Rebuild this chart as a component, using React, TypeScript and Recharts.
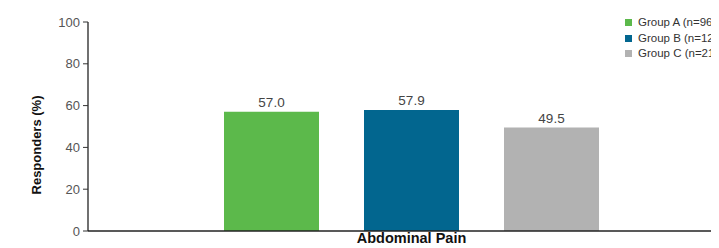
import { Bar, BarChart, LabelList, XAxis, YAxis } from 'recharts';

const FONT = '"Liberation Sans", Arial, Helvetica, sans-serif';

const categories = ['Abdominal Pain'];
const groupNames = ['Group A (n=962)', 'Group B (n=1266)', 'Group C (n=216)'];
const groupA = [57.0];
const groupB = [57.9];
const groupC = [49.5];
const yTicks = [0, 20, 40, 60, 80, 100];

const COLORS = ['#5cb94b', '#02668f', '#b2b2b2'];

const data = categories.map((name, i) => ({
  name,
  a: groupA[i],
  b: groupB[i],
  c: groupC[i],
}));

// legend sits outside the plot so it doesn't eat into the plot width
function LegendBox() {
  return (
    <div
      style={{
        position: 'absolute',
        left: 617,
        top: 7,
        fontFamily: FONT,
        fontSize: 11.5,
        color: '#333',
        lineHeight: '15.5px',
      }}
    >
      {groupNames.map((g, i) => (
        <div key={g} style={{ display: 'flex', alignItems: 'center', whiteSpace: 'nowrap' }}>
          <span style={{ width: 7, height: 7, background: COLORS[i], marginRight: 6, display: 'inline-block' }} />
          {g}
        </div>
      ))}
    </div>
  );
}

function YLabel() {
  return (
    <text
      x={28}
      y={137}
      transform="rotate(-90 28 137)"
      textAnchor="middle"
      dominantBaseline="central"
      style={{ fontFamily: FONT, fontSize: 13, fontWeight: 700, fill: '#111' }}
    >
      Responders (%)
    </text>
  );
}

export default function App() {
  const labelStyle = { fontFamily: FONT, fontSize: 13.5, fill: '#444' };
  return (
    <div style={{ position: 'relative', width: 711, height: 240, overflow: 'hidden' }}>
      <BarChart
        width={735}
        height={240}
        data={data}
        margin={{ top: 14, right: 8, bottom: 0, left: 30 }}
        barSize={95}
        barGap={45}
      >
        <XAxis
          dataKey="name"
          axisLine={{ stroke: '#222', strokeWidth: 1.5 }}
          tickLine={false}
          tickSize={0}
          tickMargin={2}
          height={17}
          tick={{ fontFamily: FONT, fontSize: 14.5, fontWeight: 700, fill: '#111' }}
        />
        <YAxis
          width={50}
          domain={[0, 100]}
          ticks={yTicks}
          axisLine={{ stroke: '#111', strokeWidth: 1.2 }}
          tickLine={{ stroke: '#333' }}
          tickSize={5}
          tickMargin={3}
          tick={{ fontFamily: FONT, fontSize: 13, fill: '#555' }}
          label={<YLabel />}
        />
        <Bar dataKey="a" name={groupNames[0]} fill={COLORS[0]} isAnimationActive={false}>
          <LabelList dataKey="a" position="top" offset={5} formatter={(v: number) => v.toFixed(1)} style={labelStyle} />
        </Bar>
        <Bar dataKey="b" name={groupNames[1]} fill={COLORS[1]} isAnimationActive={false}>
          <LabelList dataKey="b" position="top" offset={5} formatter={(v: number) => v.toFixed(1)} style={labelStyle} />
        </Bar>
        <Bar dataKey="c" name={groupNames[2]} fill={COLORS[2]} isAnimationActive={false}>
          <LabelList dataKey="c" position="top" offset={5} formatter={(v: number) => v.toFixed(1)} style={labelStyle} />
        </Bar>
      </BarChart>
      <LegendBox />
    </div>
  );
}
